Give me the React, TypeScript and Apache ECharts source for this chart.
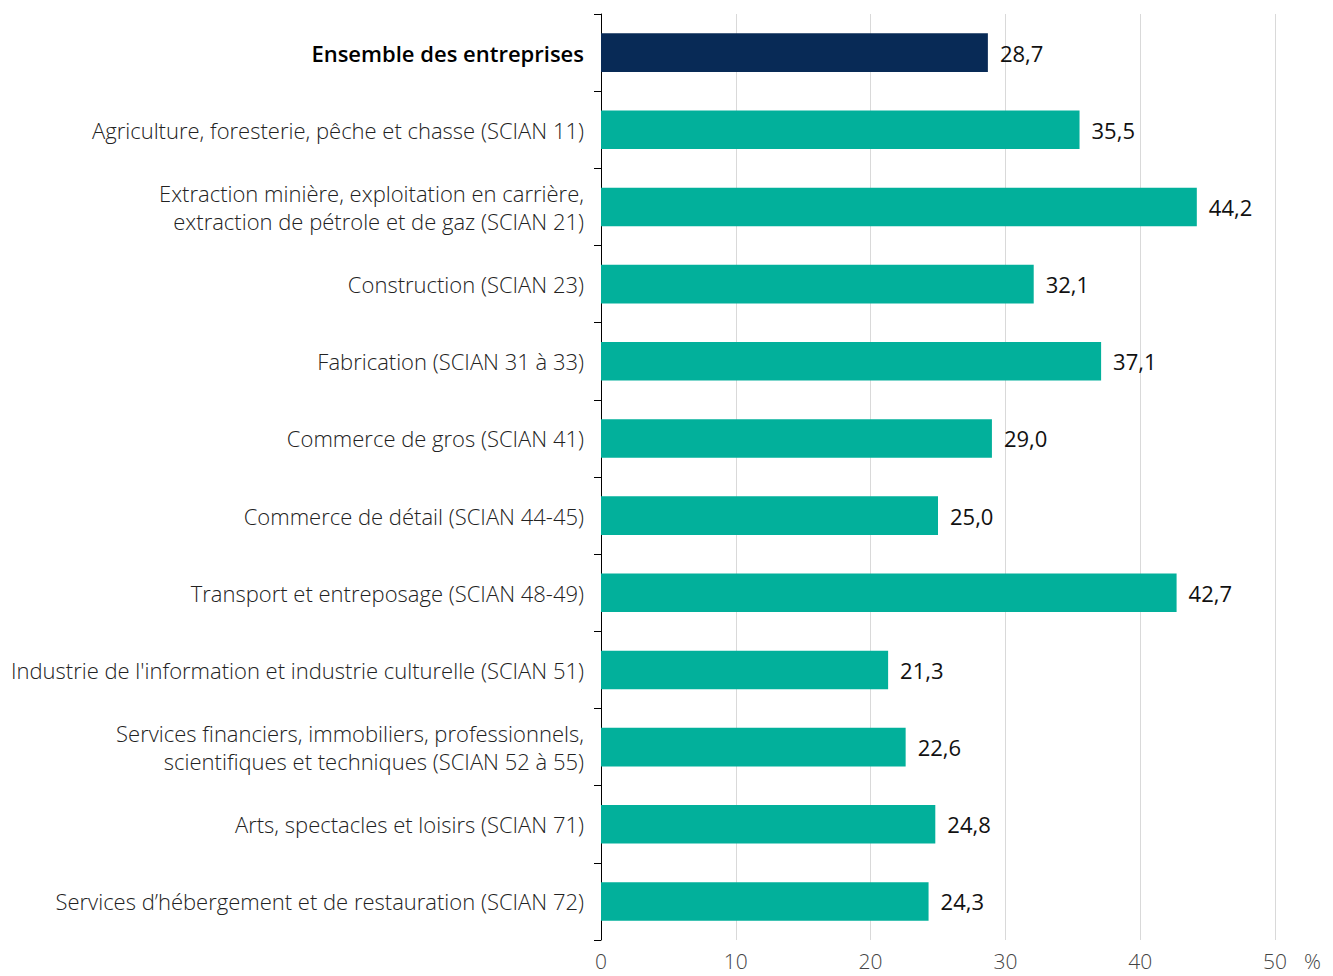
import React, { useEffect, useRef } from "react";
import * as echarts from "echarts";

const categories = [
  "Ensemble des entreprises",
  "Agriculture, foresterie, pêche et chasse (SCIAN 11)",
  "Extraction minière, exploitation en carrière,\nextraction de pétrole et de gaz (SCIAN 21)",
  "Construction (SCIAN 23)",
  "Fabrication (SCIAN 31 à 33)",
  "Commerce de gros (SCIAN 41)",
  "Commerce de détail (SCIAN 44-45)",
  "Transport et entreposage (SCIAN 48-49)",
  "Industrie de l'information et industrie culturelle (SCIAN 51)",
  "Services financiers, immobiliers, professionnels,\nscientifiques et techniques (SCIAN 52 à 55)",
  "Arts, spectacles et loisirs (SCIAN 71)",
  "Services d’hébergement et de restauration (SCIAN 72)",
];
const values = [28.7, 35.5, 44.2, 32.1, 37.1, 29.0, 25.0, 42.7, 21.3, 22.6, 24.8, 24.3];
const xTicks = { min: 0, max: 50, interval: 10 };
const unitLabel = "%";

export default function App() {
  const ref = useRef<HTMLDivElement>(null);
  useEffect(() => {
    if (!ref.current) return;
    document.body.style.margin = "0";
    const chart = echarts.init(ref.current, null, { renderer: "svg" });
    const font = "'Open Sans', 'Noto Sans', sans-serif";
    chart.setOption({
      animation: false,
      textStyle: { fontFamily: font },
      grid: { left: 601, right: 58, top: 14, bottom: 36, containLabel: false },
      xAxis: {
        type: "value",
        min: xTicks.min,
        max: xTicks.max,
        interval: xTicks.interval,
        axisLine: { show: false },
        axisTick: { show: false },
        splitLine: { show: true, lineStyle: { color: "#d9d9d9", width: 1 } },
        axisLabel: {
          fontSize: 21,
          fontWeight: 300,
          color: "#444",
          margin: 12,
          lineHeight: 18,
          fontFamily: font,
        },
      },
      yAxis: {
        type: "category",
        inverse: true,
        data: categories,
        axisLine: { show: true, lineStyle: { color: "#000", width: 1 } },
        axisTick: { show: true, length: 7, lineStyle: { color: "#000" } },
        axisLabel: {
          fontSize: 22,
          fontWeight: 300,
          color: "#222",
          margin: 17,
          lineHeight: 28,
          fontFamily: font,
          formatter: (v: string, i: number) => (i === 0 ? "{b|" + v + "}" : v),
          rich: {
            b: { fontWeight: 600, fontSize: 22, color: "#000", fontFamily: font },
          },
        },
      },
      series: [
        {
          type: "bar",
          barCategoryGap: "50%",
          data: values.map((v, i) => ({
            value: v,
            itemStyle: { color: i === 0 ? "#082a56" : "#02b09b" },
          })),
          label: {
            show: true,
            position: "right",
            distance: 12,
            fontSize: 22,
            color: "#111",
            fontFamily: font,
            formatter: (p: any) => p.value.toFixed(1).replace(".", ","),
          },
        },
      ],
      graphic: [
        {
          type: "text",
          x: 1304,
          y: 961,
          style: {
            text: unitLabel,
            fontSize: 21,
            fontWeight: 300,
            fill: "#444",
            fontFamily: font,
            verticalAlign: "middle",
            lineHeight: 18,
          },
        },
      ],
    });
    return () => chart.dispose();
  }, []);
  return <div ref={ref} style={{ width: 1333, height: 976 }} />;
}
